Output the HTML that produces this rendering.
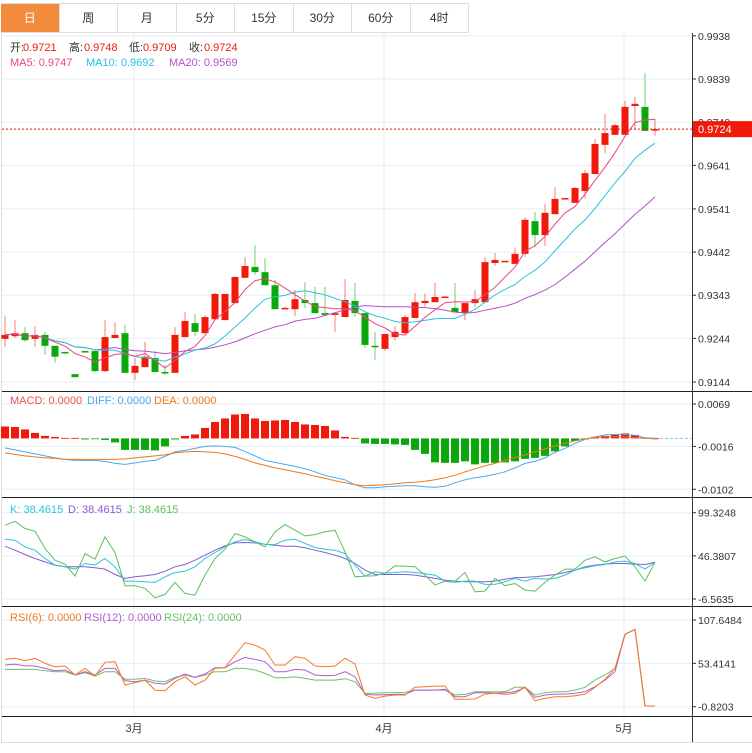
<!DOCTYPE html>
<html><head><meta charset="utf-8">
<style>
html,body{margin:0;padding:0;background:#fff;width:752px;height:753px;overflow:hidden;font-family:"Liberation Sans","Noto Sans CJK SC",sans-serif;}
#tabs{position:absolute;left:1px;top:3px;height:30px;width:468px;border-top:1px solid #ddd;border-bottom:1px solid #ddd;display:flex;box-sizing:border-box;}
.tab{flex:1;text-align:center;line-height:28px;font-size:12px;color:#333;border-right:1px solid #ddd;box-sizing:border-box;}
.tab.active{background:#f28c3c;color:#fff;}
svg{position:absolute;left:0;top:0;}
</style></head><body>
<div id="tabs">
<div class="tab active">日</div>
<div class="tab">周</div>
<div class="tab">月</div>
<div class="tab">5分</div>
<div class="tab">15分</div>
<div class="tab">30分</div>
<div class="tab">60分</div>
<div class="tab">4时</div>
</div>
<svg id="chart" width="752" height="753" font-family="Liberation Sans, Noto Sans CJK SC, sans-serif"></svg>
<script>
const opens=[.9243,.9249,.9256,.9243,.9252,.9227,.9213,.9162,.9215,.9215,.9169,.9245,.9256,.9165,.9178,.9199,.9167,.9165,.9247,.9279,.9256,.9288,.9286,.9325,.9383,.9408,.9396,.9366,.9311,.9311,.9332,.9325,.9302,.9298,.9293,.9330,.9302,.9227,.9220,.9247,.9256,.9291,.9325,.9327,.9339,.9314,.9302,.9325,.9327,.9417,.9421,.9415,.9438,.9513,.9481,.9529,.9566,.9555,.9582,.9621,.9688,.9711,.9711,.9777,.9775,.9721];
const highs=[.9295,.9286,.9270,.9272,.9259,.9227,.9213,.9162,.9216,.9218,.9286,.9281,.9275,.9199,.9236,.9215,.9183,.9270,.9304,.9300,.9298,.9348,.9346,.9385,.9431,.9458,.9428,.9378,.9316,.9355,.9373,.9362,.9362,.9302,.9380,.9371,.9302,.9259,.9254,.9272,.9298,.9348,.9346,.9371,.9341,.9371,.9325,.9355,.9431,.9440,.9422,.9451,.9522,.9534,.9552,.9591,.9567,.9591,.9630,.9701,.9759,.9736,.9789,.9798,.9853,.9748];
const lows=[.9224,.9245,.9236,.9224,.9206,.9188,.9208,.9155,.9212,.9167,.9167,.9245,.9165,.9149,.9178,.9167,.9160,.9165,.9247,.9249,.9256,.9288,.9286,.9325,.9383,.9389,.9366,.9311,.9311,.9295,.9314,.9302,.9295,.9259,.9293,.9293,.9222,.9195,.9215,.9240,.9254,.9291,.9316,.9327,.9337,.9304,.9286,.9316,.9327,.9410,.9420,.9415,.9431,.9454,.9456,.9529,.9565,.9555,.9564,.9621,.9669,.9711,.9711,.9722,.9720,.9709];
const closes=[.9252,.9256,.9240,.9252,.9227,.9202,.9211,.9155,.9213,.9169,.9247,.9252,.9165,.9181,.9202,.9167,.9165,.9252,.9284,.9259,.9293,.9346,.9346,.9385,.9410,.9396,.9366,.9311,.9314,.9334,.9325,.9302,.9298,.9302,.9332,.9302,.9229,.9224,.9254,.9259,.9293,.9327,.9330,.9339,.9340,.9304,.9325,.9334,.9419,.9424,.9422,.9438,.9516,.9481,.9532,.9564,.9566,.9589,.9623,.9690,.9715,.9733,.9775,.9782,.9720,.9724];
const macdHist=[.0024,.0023,.0018,.0011,.0005,.0003,.0001,.0001,-.0002,-.0001,-.0003,-.0008,-.0023,-.0023,-.0023,-.0024,-.0016,-.0002,.0005,.0008,.0021,.0033,.0040,.0048,.0049,.0040,.0035,.0036,.0037,.0033,.0028,.0027,.0025,.0016,.0003,.0001,-.0010,-.0011,-.0011,-.0012,-.0013,-.0023,-.0031,-.0048,-.0049,-.0049,-.0046,-.0052,-.0049,-.0049,-.0048,-.0046,-.0041,-.0039,-.0035,-.0026,-.0016,-.0005,-.0002,.0003,.0005,.0007,.0010,.0007,.0002,0];
const diffVals=[-.0019,-.0023,-.0027,-.0031,-.0035,-.0039,-.0042,-.0044,-.0044,-.0044,-.0046,-.0050,-.0052,-.0049,-.0046,-.0044,-.0036,-.0027,-.0024,-.0020,-.0016,-.0015,-.0016,-.0018,-.0026,-.0035,-.0044,-.0048,-.0052,-.0056,-.0061,-.0067,-.0074,-.0079,-.0083,-.0093,-.0099,-.0099,-.0097,-.0096,-.0095,-.0095,-.0097,-.0098,-.0096,-.0089,-.0083,-.0079,-.0076,-.0072,-.0067,-.0059,-.0050,-.0046,-.0039,-.0028,-.0020,-.0010,-.0002,.0003,.0007,.0008,.0008,.0006,.0001,0];
const deaVals=[-.0029,-.0032,-.0035,-.0037,-.0039,-.0040,-.0042,-.0042,-.0042,-.0042,-.0042,-.0042,-.0041,-.0039,-.0037,-.0035,-.0033,-.0029,-.0027,-.0026,-.0027,-.0028,-.0031,-.0036,-.0042,-.0049,-.0054,-.0059,-.0063,-.0067,-.0071,-.0076,-.0080,-.0085,-.0089,-.0093,-.0095,-.0094,-.0093,-.0091,-.0089,-.0088,-.0086,-.0083,-.0079,-.0074,-.0067,-.0061,-.0055,-.0050,-.0044,-.0038,-.0033,-.0027,-.0021,-.0015,-.0010,-.0005,-.0001,.0002,.0003,.0003,.0003,.0001,0,0];
const kVals=[66.8,65.6,57.4,53.3,43.1,35.0,32.9,30.1,37.0,35.0,43.1,32.9,15.4,15.4,14.6,13.8,20.7,26.0,27.6,32.9,43.1,50.5,57.4,63.5,66.4,63.5,60.3,60.3,65.6,66.8,61.5,56.6,54.5,53.3,49.2,35.0,21.5,21.9,25.2,26.0,26.8,26.0,24.4,22.7,15.4,13.8,15.4,15.4,11.3,11.3,14.6,18.7,15.4,18.7,17.8,18.7,22.7,28.9,31.7,34.2,35.8,39.0,39.9,37.0,30.1,38.5];
const dVals=[58.2,53.3,48.0,43.1,39.0,35.0,32.9,32.9,32.9,31.7,30.1,23.5,18.7,20.7,21.9,23.5,27.6,32.9,35.8,41.1,47.2,53.3,58.6,62.3,62.7,62.3,60.7,59.4,58.2,58.2,56.2,53.3,50.5,47.2,43.1,37.0,28.9,23.5,23.5,23.5,23.5,22.7,20.7,18.7,16.6,15.4,14.6,14.6,14.6,15.4,17.8,19.5,19.9,20.7,21.9,23.5,26.0,28.9,32.9,35.0,36.2,37.0,37.0,36.2,35.8,38.5];
const jVals=[83.9,88.8,79.9,76.6,55.4,41.1,36.2,21.5,49.2,42.3,69.6,50.5,9.7,9.7,6.4,-5.0,-0.9,13.8,0.3,-1.8,22.7,43.1,54.5,73.7,69.6,63.5,57.4,75.8,84.7,77.8,70.9,72.5,75.8,77.8,51.3,20.7,21.5,26.8,24.8,34.2,33.7,32.9,22.7,10.5,15.4,15.4,26.0,2.3,3.1,18.7,9.7,12.5,4.4,3.1,13.8,22.7,30.1,30.1,41.1,45.2,39.0,43.1,46.0,32.9,15.4,38.5];
const rsi6=[58.4,59.7,56.7,59.7,53.4,49.2,50.1,38.8,47.1,37.6,54.7,55.5,26.3,29.2,32.5,20.0,19.2,30.5,36.7,26.3,32.5,47.1,48.0,63.8,79.3,76.3,70.1,51.3,51.3,61.7,59.7,50.1,49.2,50.1,59.7,52.6,13.8,9.6,12.5,13.8,13.8,23.4,24.2,25.0,25.0,8.4,8.4,8.8,15.0,15.9,14.6,15.9,23.4,6.7,9.6,11.7,11.7,12.9,15.0,23.4,33.4,47.1,89.7,95.9,0,0];
const rsi12=[51.3,52.2,50.5,50.1,47.1,44.2,45.1,38.8,43.0,38.8,47.1,47.1,31.7,30.5,32.5,28.4,27.5,34.6,40.1,36.0,40.1,48.0,48.0,55.5,60.9,58.4,55.5,43.0,43.0,45.9,45.1,38.8,38.0,38.4,43.0,36.7,15.0,13.8,14.2,14.6,14.6,20.0,20.0,20.0,20.9,11.7,11.7,16.7,16.7,15.9,16.7,18.0,23.4,10.9,13.8,15.0,15.0,15.9,18.0,24.2,32.5,43.0,89.7,95.9,0,0];
const rsi24=[45.9,45.9,45.9,45.9,44.2,43.0,43.0,38.8,41.7,37.6,43.0,43.0,33.4,33.4,34.6,31.3,30.5,35.9,38.8,35.9,38.8,43.0,43.0,47.1,47.1,45.1,40.9,35.5,35.5,36.7,34.6,32.5,32.5,32.5,34.2,30.5,15.9,15.9,16.7,16.7,17.1,20.0,20.0,20.0,20.0,13.8,14.6,18.0,18.0,18.0,18.0,23.4,23.4,13.8,16.7,18.0,18.0,20.0,23.4,32.5,38.8,47.1,89.7,95.9,0,0];
const priceTicks=["0.9938","0.9839","0.9740","0.9641","0.9541","0.9442","0.9343","0.9244","0.9144"];
const macdTicks=["0.0069","-0.0016","-0.0102"];
const kdjTicks=["99.3248","46.3807","-6.5635"];
const rsiTicks=["107.6484","53.4141","-0.8203"];
const monthLabels=["3月","4月","5月"];
const monthIdx=[13,38,62];
const lastPrice="0.9724";

const NS="http://www.w3.org/2000/svg";
const svg=document.getElementById('chart');
function mk(tag,attrs,parent){const e=document.createElementNS(NS,tag);for(const k in attrs)e.setAttribute(k,attrs[k]);(parent||svg).appendChild(e);return e;}
function lin(v0,y0,v1,y1){return v=>y0+(v-v0)*(y1-y0)/(v1-v0);}
const xOf=i=>5+10*i;
const yP=lin(0.9839,79,0.9144,382);
const yM=lin(0.0069,404,-0.0102,489.3);
const yK=lin(99.3248,512.7,-6.5635,599);
const yR=lin(107.6484,620,-0.8203,706.7);
const RED="#f0190a",GREEN="#0aa80a";

// grid
const grid=mk('g',{});
function hgrid(y){mk('line',{x1:2,x2:692,y1:y,y2:y,stroke:'#e6eef3','stroke-width':1},grid);}
priceTicks.forEach(t=>hgrid(yP(+t)));
macdTicks.forEach(t=>hgrid(yM(+t)));
kdjTicks.forEach(t=>hgrid(yK(+t)));
rsiTicks.forEach(t=>hgrid(yR(+t)));
monthIdx.forEach(i=>mk('line',{x1:xOf(i)-1,x2:xOf(i)-1,y1:34,y2:716,stroke:'#e6eef3','stroke-width':1},grid));

// frame
mk('line',{x1:1.5,x2:1.5,y1:33,y2:742,stroke:'#ddd'});
mk('line',{x1:1,x2:752,y1:742.5,y2:742.5,stroke:'#ddd'});
mk('line',{x1:692.5,x2:692.5,y1:33,y2:742,stroke:'#333'});
[391.5,497.5,606.5,716.5].forEach(y=>mk('line',{x1:2,x2:752,y1:y,y2:y,stroke:'#222'}));

// axis labels
function axis(ticks,f,name){const g=mk('g',{});
 ticks.forEach(t=>{const y=f(+t);mk('line',{x1:692,x2:696,y1:y,y2:y,stroke:'#333'},g);const tx=mk('text',{x:698,y:y+4,'font-size':10.5,fill:'#333'},g);tx.textContent=t;});}
axis(priceTicks,yP,'price-axis');axis(macdTicks,yM,'macd-axis');axis(kdjTicks,yK,'kdj-axis');axis(rsiTicks,yR,'rsi-axis');

// candles
const cg=mk('g',{});
for(let i=0;i<closes.length;i++){
 const up=closes[i]>=opens[i];const col=up?RED:GREEN;const x=xOf(i);
 const w=mk('line',{x1:x,x2:x,y1:yP(highs[i]),y2:yP(lows[i]),stroke:up?'#f77d74':'#6fd06f','stroke-width':1},cg);
 
 const top=yP(Math.max(opens[i],closes[i])),bot=yP(Math.min(opens[i],closes[i]));
 const r=mk('rect',{x:x-3.5,y:top,width:7,height:Math.max(1.5,bot-top),fill:col},cg);
 
 
}
function ma(n){return closes.map((c,i)=>{const s=closes.slice(Math.max(0,i-n+1),i+1);return s.reduce((a,b)=>a+b,0)/s.length;});}
function poly(vals,f,color,name,w){const p=mk('polyline',{points:vals.map((v,i)=>xOf(i)+','+f(v).toFixed(1)).join(' '),fill:'none',stroke:color,'stroke-width':w||1});
 
 return p;}
poly(ma(20),yP,'#b451c9','ma20-line');
poly(ma(10),yP,'#28c2e0','ma10-line');
poly(ma(5),yP,'#f0447e','ma5-line');

// last price
const ly=yP(+lastPrice);
mk('line',{x1:2,x2:692,y1:ly,y2:ly,stroke:RED,'stroke-dasharray':'2,2','stroke-width':1});
const lb=mk('rect',{x:693,y:ly-8,width:59,height:16,fill:RED});

const lt=mk('text',{x:698,y:ly+4,'font-size':11,fill:'#fff'});lt.textContent=lastPrice;

// MACD
const zeroY=yM(0);
mk('line',{x1:xOf(closes.length-1),x2:692,y1:zeroY,y2:zeroY,stroke:'#7cc6ee','stroke-dasharray':'3,2'});
const mg=mk('g',{});
macdHist.forEach((v,i)=>{const y=yM(v);const r=mk('rect',{x:xOf(i)-4,y:Math.min(y,zeroY),width:8,height:Math.max(0.8,Math.abs(y-zeroY)),fill:v>=0?RED:GREEN},mg);
 });
poly(diffVals,yM,'#4aa8f0','diff-line');
poly(deaVals,yM,'#f07818','dea-line');

// KDJ
poly(dVals,yK,'#8a5ad8','kdj-d-line');
poly(kVals,yK,'#2ac5d8','kdj-k-line');
poly(jVals,yK,'#5cbf5c','kdj-j-line');

// RSI
poly(rsi24,yR,'#6cc06c','rsi24-line');
poly(rsi12,yR,'#b45cd0','rsi12-line');
poly(rsi6,yR,'#f47a20','rsi6-line');

// month labels
monthIdx.forEach((idx,k)=>{const t=mk('text',{x:xOf(idx)-1,y:732,'font-size':11,fill:'#333','text-anchor':'middle'});t.textContent=monthLabels[k];
 });

// legends
function legend(y,items,name){const g=mk('g',{});
 items.forEach(it=>{const t=mk('text',{x:it[0],y:y,'font-size':11,fill:it[2]},g);t.textContent=it[1];});}
legend(51,[[10,'开:','#333'],[23,'0.9721',RED],[69,'高:','#333'],[84,'0.9748',RED],[129,'低:','#333'],[143,'0.9709',RED],[189,'收:','#333'],[204,'0.9724',RED]],'ohlc-legend');
legend(66,[[10,'MA5: 0.9747','#f0447e'],[86,'MA10: 0.9692','#28c2e0'],[169,'MA20: 0.9569','#b451c9']],'ma-legend');
legend(404,[[10,'MACD: 0.0000','#f05050'],[87,'DIFF: 0.0000','#4aa8f0'],[154,'DEA: 0.0000','#f07818']],'macd-legend');
legend(513,[[10,'K: 38.4615','#2ac5d8'],[68,'D: 38.4615','#8a5ad8'],[127,'J: 38.4615','#5cbf5c']],'kdj-legend');
legend(621,[[10,'RSI(6): 0.0000','#f47a20'],[84,'RSI(12): 0.0000','#b45cd0'],[164,'RSI(24): 0.0000','#6cc06c']],'rsi-legend');
</script>
</body></html>
